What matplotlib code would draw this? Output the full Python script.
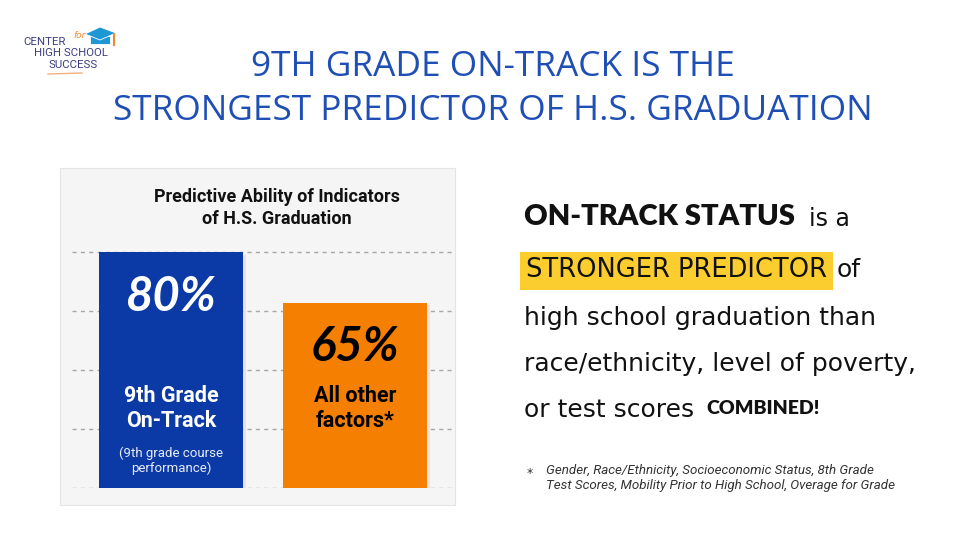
import matplotlib
matplotlib.use("Agg")
import matplotlib.pyplot as plt
from matplotlib.patches import Rectangle, Polygon
import matplotlib.patheffects as pe

# chart data
categories = ["9th Grade\nOn-Track", "All other\nfactors*"]
values = [80, 65]
value_labels = ["80%", "65%"]
sub_labels = ["(9th grade course\nperformance)", ""]
grid_levels = [10, 27.5, 45, 62.5, 80]

title_lines = "9TH GRADE ON-TRACK IS THE\nSTRONGEST PREDICTOR OF H.S. GRADUATION"
chart_title = "Predictive Ability of Indicators\nof H.S. Graduation"
footnote = "Gender, Race/Ethnicity, Socioeconomic Status, 8th Grade\nTest Scores, Mobility Prior to High School, Overage for Grade"

BLUE = "#0b3aa6"
ORANGE = "#f57f00"
TITLE_BLUE = "#1f4fb5"
NAVY = "#3b3f80"
INK = "#111111"
HAND = "DejaVu Sans"

W, H = 960, 540
fig = plt.figure(figsize=(9.6, 5.4), dpi=100)
fig.patch.set_facecolor("white")
renderer = fig.canvas.get_renderer()


def fx(x):
    return x / W


def fy(y):
    return 1 - y / H


def ftext(x, y, s, **kw):
    return fig.text(fx(x), fy(y), s, **kw)


def right_px(t):
    return t.get_window_extent(renderer).x1


# main title
ftext(493, 89, title_lines, ha="center", va="center", fontsize=25.4,
      color=TITLE_BLUE, family="Open Sans", linespacing=1.35)

# logo
ftext(23, 42, "CENTER", ha="left", va="center", fontsize=8.2, color=NAVY,
      family="Roboto")
ftext(73, 36, "for", ha="left", va="center", fontsize=6.5, color="#f08a2c",
      style="italic")
ftext(71, 53.5, "HIGH SCHOOL", ha="center", va="center", fontsize=8.2, color=NAVY,
      family="Roboto")
ftext(73, 65, "SUCCESS", ha="center", va="center", fontsize=8.2, color=NAVY,
      family="Roboto")
cap_top = [(85, 34), (100, 27), (116, 33), (100, 40)]
cap_base = [(90, 36), (110, 36), (110, 44), (90, 44)]
for pts in (cap_base, cap_top):
    fig.patches.append(Polygon([(fx(a), fy(b)) for a, b in pts], closed=True,
                               transform=fig.transFigure, facecolor="#1f97d4",
                               edgecolor="white", lw=0.6))
fig.lines.append(plt.Line2D([fx(114), fx(114)], [fy(34), fy(45)],
                            transform=fig.transFigure, color="#f08a2c", lw=1.5))
fig.lines.append(plt.Line2D([fx(48), fx(82)], [fy(74), fy(73)],
                            transform=fig.transFigure, color="#f2b27a", lw=1))

# chart panel background
fig.patches.append(Rectangle((fx(60), fy(505)), fx(395), 337 / H,
                             transform=fig.transFigure, facecolor="#f5f5f5",
                             edgecolor="#e4e4e4", lw=0.8, zorder=0))
ftext(277, 208, chart_title, ha="center", va="center", fontsize=13,
      fontweight="bold", color=INK, family="Roboto", linespacing=1.25)

# bar chart axes
ax = fig.add_axes([fx(72), 52 / H, 381 / W, 242.7 / H], zorder=2)
ax.set_facecolor("none")
ax.set_ylim(10, 82)
ax.set_xlim(-0.538, -0.538 + 381 / 184)
for g in grid_levels:
    ax.axhline(g, color="#a8a8a8", lw=1, ls=(0, (3, 3)), zorder=1)

x = list(range(len(categories)))
bars = ax.bar(x, values, width=0.783, color=[BLUE, ORANGE], zorder=3)
for b in bars:
    b.set_path_effects([pe.SimplePatchShadow(offset=(2, -2), alpha=0.07), pe.Normal()])

txt_colors = ["white", "black"]
for i, v in enumerate(values):
    ax.text(i, v - 13.3, value_labels[i], ha="center", va="center", fontsize=34,
            color=txt_colors[i], style="italic", fontweight="bold", family="Lato",
            zorder=4)
    ax.text(i, 33.5, categories[i], ha="center", va="center", fontsize=15.5,
            fontweight="bold", color=txt_colors[i], family="Roboto",
            linespacing=1.2, zorder=4)
    if sub_labels[i]:
        ax.text(i, 18.2, sub_labels[i], ha="center", va="center", fontsize=9.5,
                color="#e8ecf8", family="Roboto", linespacing=1.15, zorder=4)

ax.set_xticks([])
ax.set_yticks([])
for s in ax.spines.values():
    s.set_visible(False)

# right-hand statement
t1 = ftext(524, 217, "ON-TRACK STATUS", ha="left", va="center", fontsize=21,
           fontweight="heavy", color=INK, family="Lato")
ftext(right_px(t1) + 14, 219, "is a", ha="left", va="center", fontsize=17,
      color=INK, family=HAND)
t2 = ftext(526, 270, "STRONGER PREDICTOR", ha="left", va="center", fontsize=18.5,
           color=INK, family=HAND, zorder=3)
end2 = right_px(t2)
fig.patches.append(Rectangle((fx(520), fy(290)), (end2 + 6 - 520) / W, 38 / H,
                             transform=fig.transFigure, facecolor="#fbcd2e",
                             edgecolor="none"))
ftext(end2 + 10, 270, "of", ha="left", va="center", fontsize=18, color=INK,
      family=HAND)
ftext(524, 318, "high school graduation than", ha="left", va="center",
      fontsize=18, color=INK, family=HAND)
ftext(524, 364, "race/ethnicity, level of poverty,", ha="left", va="center",
      fontsize=18, color=INK, family=HAND)
t5 = ftext(524, 410, "or test scores", ha="left", va="center", fontsize=18,
           color=INK, family=HAND)
ftext(right_px(t5) + 12, 409, "COMBINED!", ha="left", va="center", fontsize=14,
      fontweight="heavy", color=INK, family="Lato")

# footnote
ftext(530, 474, "*", ha="center", va="center", fontsize=9, color="#333333")
ftext(546, 478, footnote, ha="left", va="center", fontsize=9.6,
      style="italic", color="#333333", family="Roboto", linespacing=1.15)

fig.savefig("out.png", dpi=100)
